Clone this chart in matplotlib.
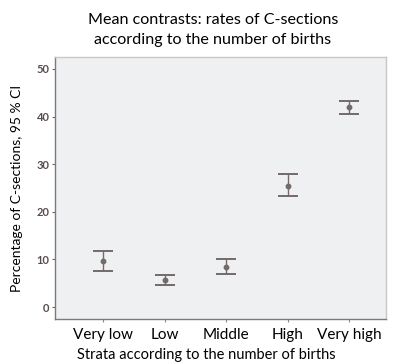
import numpy as np
import matplotlib
matplotlib.use('Agg')
import matplotlib.pyplot as plt

# Tasas de cesáreas por estrato (media e IC 95 %)
strata = ['Very low', 'Low', 'Middle', 'High', 'Very high']
means = [9.6, 5.7, 8.5, 25.5, 41.9]
ci_low = [7.6, 4.6, 6.9, 23.3, 40.6]
ci_high = [11.7, 6.8, 10.2, 27.9, 43.3]
yticks = [0, 10, 20, 30, 40, 50]

plt.rcParams['font.family'] = ['Lato', 'DejaVu Sans']

fig = plt.figure(figsize=(3.93, 3.63), dpi=100)
ax = fig.add_axes([55 / 393, 1 - 319 / 363, (386 - 55) / 393, (319 - 57) / 363])
ax.set_facecolor('#eef0f2')

x = np.arange(len(strata))
means = np.array(means)
yerr = [means - np.array(ci_low), np.array(ci_high) - means]

ax.errorbar(x, means, yerr=yerr, fmt='o', color='#746a6a', ecolor='#746a6a',
            markersize=3.2, elinewidth=1.0, capsize=7.5, capthick=1.4)

ax.set_xlim(-0.78, 4.6)
ax.set_ylim(-2.5, 52.5)
ax.set_xticks(x)
ax.set_xticklabels(strata, fontsize=11)
ax.set_yticks(yticks)
ax.set_yticklabels([str(v) for v in yticks], fontsize=8, fontweight='bold', color='#5a4c4c')
ax.tick_params(axis='x', length=2, width=0.8, color='#8a8a8a', pad=4.5)
ax.tick_params(axis='y', length=2, width=0.8, color='#6a6a6a', pad=2)

for side in ['left', 'bottom']:
    ax.spines[side].set_color('#7a7a7a')
    ax.spines[side].set_linewidth(1.0)
for side in ['top', 'right']:
    ax.spines[side].set_color('#c8c8c8')
    ax.spines[side].set_linewidth(1.0)

ax.set_xlabel('Strata according to the number of births', fontsize=10.5)
ax.xaxis.set_label_coords((206 - 55) / (386 - 55), -0.11)
ax.set_ylabel('Percentage of C-sections, 95 % CI', fontsize=10, labelpad=10)
fig.text(213 / 393, 1 - 30 / 363, 'Mean contrasts: rates of C-sections\naccording to the number of births',
         ha='center', va='center', fontsize=11.6, linespacing=1.55)

plt.savefig('out.png', dpi=100)
plt.close()
